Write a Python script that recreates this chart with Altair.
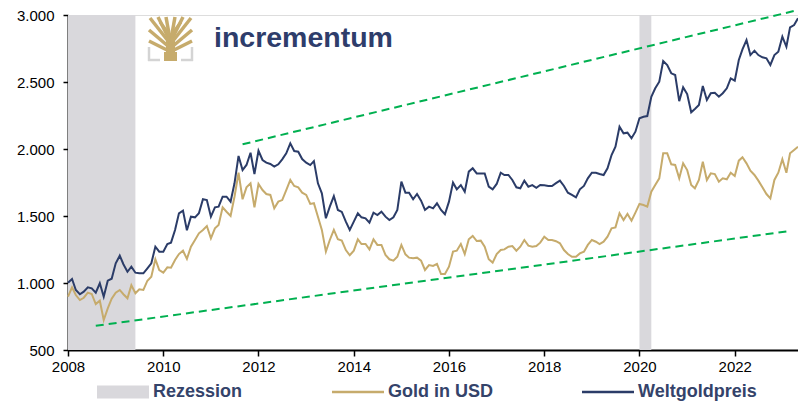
import altair as alt
import pandas as pd

# ---------------- data ----------------
months = pd.date_range("2008-01-01", periods=185, freq="MS").strftime("%Y-%m-%d").tolist()

gold_usd = [
    898, 968, 910, 873, 890, 928, 918, 843, 868, 724, 811, 883,
    928, 948, 916, 886, 983, 923, 953, 948, 1017, 1047, 1177, 1097,
    1077, 1117, 1114, 1172, 1216, 1241, 1180, 1271, 1321, 1371, 1396, 1425,
    1333, 1408, 1433, 1565, 1532, 1500, 1644, 1823, 1625, 1714, 1744, 1565,
    1739, 1694, 1664, 1657, 1557, 1607, 1619, 1694, 1769, 1724, 1714, 1674,
    1657, 1590, 1595, 1495, 1396, 1234, 1321, 1396, 1326, 1316, 1246, 1207,
    1241, 1326, 1291, 1291, 1251, 1326, 1284, 1284, 1209, 1177, 1167, 1196,
    1284, 1214, 1189, 1184, 1189, 1167, 1097, 1134, 1127, 1142, 1067, 1067,
    1122, 1234, 1241, 1291, 1216, 1326, 1351, 1313, 1316, 1271, 1177, 1152,
    1216, 1246, 1251, 1271, 1276, 1241, 1271, 1321, 1279, 1271, 1276, 1301,
    1346, 1321, 1321, 1312, 1296, 1246, 1216, 1196, 1196, 1221, 1234, 1284,
    1321, 1308, 1291, 1308, 1346, 1408, 1415, 1520, 1470, 1515, 1465, 1525,
    1590, 1582, 1570, 1681, 1731, 1781, 1968, 1968, 1886, 1881, 1781, 1893,
    1843, 1731, 1707, 1769, 1905, 1769, 1818, 1813, 1756, 1781, 1774, 1823,
    1798, 1913, 1938, 1893, 1838, 1806, 1764, 1714, 1664, 1632, 1769, 1823,
    1923, 1823, 1968, 1993, 2017,
]

weltgoldpreis = [
    1002, 1030, 948, 916, 935, 968, 960, 928, 998, 898, 1017, 1032,
    1147, 1204, 1140, 1084, 1122, 1077, 1072, 1072, 1110, 1147, 1271, 1234,
    1234, 1291, 1301, 1396, 1520, 1540, 1393, 1495, 1490, 1520, 1625, 1619,
    1495, 1565, 1570, 1644, 1644, 1607, 1744, 1948, 1843, 1881, 1972, 1813,
    1987, 1918, 1898, 1888, 1868, 1886, 1923, 1968, 2042, 1985, 1980, 1925,
    1898, 1880, 1910, 1744, 1669, 1483, 1570, 1649, 1545, 1530, 1458, 1396,
    1458, 1520, 1490, 1483, 1450, 1525, 1507, 1532, 1495, 1470, 1490, 1545,
    1756, 1674, 1674, 1625, 1664, 1614, 1545, 1570, 1557, 1595, 1545, 1513,
    1607, 1749, 1699, 1731, 1681, 1831, 1856, 1818, 1818, 1818, 1719, 1699,
    1739, 1823, 1806, 1806, 1769, 1714, 1707, 1764, 1719, 1731, 1711, 1731,
    1729, 1724, 1724, 1745, 1764, 1724, 1674, 1657, 1639, 1699, 1724, 1781,
    1823, 1823, 1813, 1806, 1856, 1955, 2017, 2166, 2117, 2122, 2080, 2129,
    2229, 2241, 2246, 2390, 2453, 2502, 2657, 2627, 2565, 2552, 2357, 2460,
    2410, 2274, 2299, 2328, 2470, 2366, 2416, 2420, 2390, 2416, 2453, 2527,
    2510, 2664, 2744, 2813, 2701, 2734, 2701, 2684, 2677, 2627, 2701, 2726,
    2838, 2763, 2908, 2925, 2975,
]

rec_start = ["2008-01-01", "2020-01-01"]
rec_end = ["2009-06-01", "2020-04-01"]

upper_dates = ["2011-09-01", "2023-05-01"]
upper_vals = [2035, 3037]
lower_dates = ["2008-08-01", "2023-03-01"]
lower_vals = [681, 1388]

legend_names = ["Rezession", "Gold in USD", "Weltgoldpreis"]
y_ticks = [500, 1000, 1500, 2000, 2500, 3000]

# ---------------- styles ----------------
GRAY = "#D9D8DC"
GOLD = "#C6AB6C"
NAVY = "#2B3C68"
GREEN = "#00B050"
FONT = "Liberation Sans"

series_df = pd.DataFrame({"date": months, "gold": gold_usd, "welt": weltgoldpreis})
rec_df = pd.DataFrame({"start": rec_start, "end": rec_end})
trend_df = pd.DataFrame({
    "date": upper_dates + lower_dates,
    "value": upper_vals + lower_vals,
    "line": ["upper", "upper", "lower", "lower"],
})
legend_df = pd.DataFrame({"name": legend_names, "date": [None] * 3, "value": [None] * 3})

x_scale = alt.Scale(
    type="utc",
    domain=[alt.DateTime(year=2008, month=1, date=1, utc=True),
            alt.DateTime(year=2023, month=5, date=1, utc=True)],
)
y_scale = alt.Scale(domain=[500, 3000], nice=False, zero=False)

x_axis = alt.Axis(
    format="%Y", tickCount={"interval": "year", "step": 2}, title=None, grid=False,
    labelFont=FONT, labelFontSize=15, labelColor="black", labelPadding=3,
    domainColor="black", domainWidth=2, tickColor="black", tickWidth=1.5, tickSize=6,
    labelFlush=False,
)
y_axis = alt.Axis(
    values=y_ticks, title=None, grid=False,
    labelExpr="replace(format(datum.value, ',.0f'), ',', '.')",
    labelFont=FONT, labelFontSize=15, labelColor="black", labelPadding=9,
    domainColor="black", domainWidth=2, tickColor="black", tickWidth=1.5, tickSize=5,
)

base = alt.Chart(series_df)

rec = alt.Chart(rec_df).mark_rect(color=GRAY).encode(
    x=alt.X("start:T", scale=x_scale, axis=x_axis),
    x2="end:T",
)

trend = alt.Chart(trend_df).mark_line(
    color=GREEN, strokeWidth=2, strokeDash=[8, 5], clip=False
).encode(
    x=alt.X("date:T", scale=x_scale),
    y=alt.Y("value:Q", scale=y_scale, axis=y_axis),
    detail="line:N",
)

gold_line = base.mark_line(color=GOLD, strokeWidth=2).encode(
    x=alt.X("date:T", scale=x_scale),
    y=alt.Y("gold:Q", scale=y_scale),
)
welt_line = base.mark_line(color=NAVY, strokeWidth=2).encode(
    x=alt.X("date:T", scale=x_scale),
    y=alt.Y("welt:Q", scale=y_scale),
)

RECT_PATH = "M-1,-0.25H1V0.25H-1Z"
LINE_PATH = "M-1,-0.045H1V0.045H-1Z"
leg = alt.Legend(
    orient="none", legendX=29, legendY=351, direction="horizontal", title=None,
    symbolSize=2704, symbolStrokeWidth=0, labelFont=FONT, labelFontSize=18,
    labelFontWeight="bold", labelColor="#34436A", labelOffset=4, columnPadding=89,
    padding=0, labelLimit=300,
)
legend_layer = alt.Chart(legend_df).mark_point(filled=True, opacity=1).encode(
    x=alt.X("date:T", scale=x_scale),
    y=alt.Y("value:Q", scale=y_scale),
    color=alt.Color("name:N", scale=alt.Scale(domain=legend_names, range=[GRAY, GOLD, NAVY]), legend=leg),
    shape=alt.Shape("name:N", scale=alt.Scale(domain=legend_names, range=[RECT_PATH, LINE_PATH, LINE_PATH]), legend=leg),
)

# ---------------- logo (decoration) ----------------
one = pd.DataFrame({"k": [0]})
OX, OY = 68, 15  # plot origin in page pixels


def seg(x1, y1, x2, y2, color, w):
    return alt.Chart(one).mark_rule(color=color, strokeWidth=w, strokeCap="butt").encode(
        x=alt.value(x1 - OX), y=alt.value(y1 - OY), x2=alt.value(x2 - OX), y2=alt.value(y2 - OY)
    )


logo_gray = "#D4D4D4"
logo = [
    seg(149, 47, 149, 61, logo_gray, 2.5), seg(148, 60, 160, 60, logo_gray, 2.5),
    seg(192, 47, 192, 61, logo_gray, 2.5), seg(181, 60, 193, 60, logo_gray, 2.5),
    seg(170.5, 61, 170.5, 40, GOLD, 9), seg(170.5, 61, 170.5, 52, GOLD, 13),
    seg(170.5, 44, 150, 18, GOLD, 3.5), seg(170.5, 42, 158, 17, GOLD, 3.5),
    seg(170.5, 42, 166, 17, GOLD, 3.5), seg(170.5, 42, 175, 17, GOLD, 3.5),
    seg(170.5, 42, 183, 17, GOLD, 3.5), seg(170.5, 44, 191, 18, GOLD, 3.5),
    seg(168, 46, 149, 30, GOLD, 3.5), seg(173, 46, 192, 30, GOLD, 3.5),
    seg(167, 50, 149, 41, GOLD, 3.5), seg(174, 50, 192, 41, GOLD, 3.5),
    seg(170.5, 36, 160, 22, GOLD, 3), seg(170.5, 36, 181, 22, GOLD, 3),
]
logo_text = alt.Chart(one).mark_text(
    text="incrementum", font=FONT, fontSize=28.5, fontWeight="bold", color="#2E3D6B",
    align="left", baseline="alphabetic",
).encode(x=alt.value(214 - OX), y=alt.value(47 - OY))

chart = alt.layer(
    rec, trend, gold_line, welt_line, legend_layer, *logo, logo_text
).properties(
    width=730, height=335,
    padding={"left": 60, "top": 7, "right": 0, "bottom": 54},
    autosize=alt.AutoSizeParams(type="none"),
).configure_view(stroke=None).configure(font=FONT)

chart.save("out.html", embed_options={"renderer": "svg", "actions": False})
